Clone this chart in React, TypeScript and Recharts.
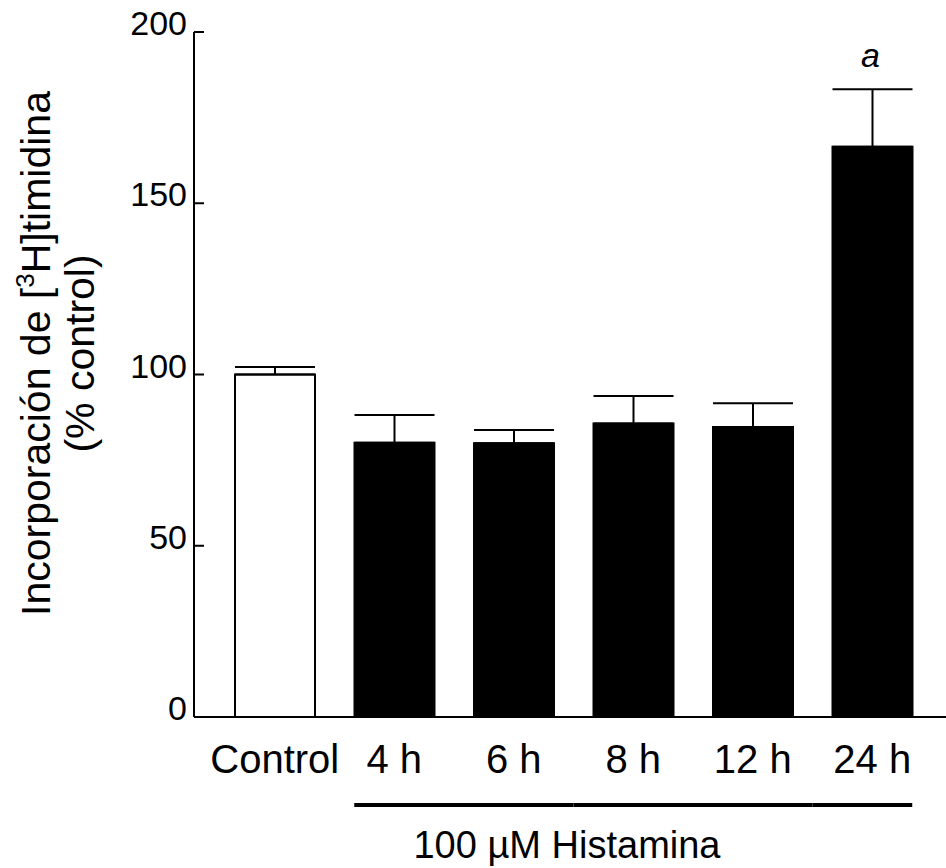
import { BarChart, Bar, XAxis, YAxis, ErrorBar, Cell, LabelList } from "recharts";

const categories = ["Control", "4 h", "6 h", "8 h", "12 h", "24 h"];
const values = [100, 80.1, 79.9, 85.7, 84.7, 166.5];
const errors = [2.2, 8.1, 3.9, 8.0, 6.9, 16.8];
const marks = ["", "", "", "", "", "a"];
const fills = ["#ffffff", "#000000", "#000000", "#000000", "#000000", "#000000"];
const yTicks = [0, 50, 100, 150, 200];

const FONT = "'Liberation Sans', Arial, Helvetica, sans-serif";
const BAR_SIZE = 80;

const data = categories.map((name, i) => ({
  name,
  value: values[i],
  err: [0, errors[i]],
  mark: marks[i],
}));

// tick marks point into the plot, labels sit just above the tick
function YTick(props: any) {
  const { x, y, payload } = props;
  return (
    <g>
      <line x1={x} x2={x + 10} y1={y} y2={y} stroke="#000" strokeWidth={2} />
      <text
        x={x - 7}
        y={y + 3}
        textAnchor="end"
        fontSize={34}
        fontFamily={FONT}
        fill="#000"
      >
        {payload.value}
      </text>
    </g>
  );
}

// category label + the bracket under the histamine groups
function XTick(props: any) {
  const { x, y, payload, index } = props;
  const half = payload.offset || 59.75;
  const last = categories.length - 1;
  let bracket = null;
  if (index >= 1) {
    const x1 = index === 1 ? x - BAR_SIZE / 2 : x - half;
    const x2 = index === last ? x + BAR_SIZE / 2 : x + half;
    bracket = (
      <line x1={x1} x2={x2} y1={y + 88} y2={y + 88} stroke="#000" strokeWidth={4} />
    );
  }
  return (
    <g>
      <text
        x={x}
        y={y + 56}
        textAnchor="middle"
        fontSize={40}
        fontFamily={FONT}
        fill="#000"
      >
        {payload.value}
      </text>
      {bracket}
    </g>
  );
}

function YLabel(props: any) {
  const { viewBox } = props;
  const cy = viewBox.y + viewBox.height / 2 - 21;
  const x1 = viewBox.x + 50;
  const x2 = viewBox.x + 94;
  return (
    <g fontFamily={FONT} fontSize={41} fill="#000">
      <text x={x1} y={cy} textAnchor="middle" transform={`rotate(-90, ${x1}, ${cy})`}>
        Incorporación de [<tspan fontSize={26} dy={-16}>3</tspan>
        <tspan dy={16}>H]timidina</tspan>
      </text>
      <text x={x2} y={cy} textAnchor="middle" transform={`rotate(-90, ${x2}, ${cy})`}>
        (% control)
      </text>
    </g>
  );
}

function XLabel(props: any) {
  const { viewBox } = props;
  return (
    <text
      x={viewBox.x + viewBox.width / 2 - 3}
      y={viewBox.y + viewBox.height - 10}
      textAnchor="middle"
      fontSize={38}
      fontFamily={FONT}
      fill="#000"
    >
      100 µM Histamina
    </text>
  );
}

function Mark(props: any) {
  const { x, y, width, value } = props;
  if (!value) return null;
  return (
    <text
      x={x + width / 2 - 2}
      y={y - 80}
      textAnchor="middle"
      fontSize={34}
      fontStyle="italic"
      fontFamily={FONT}
      fill="#000"
    >
      {value}
    </text>
  );
}

export default function App() {
  return (
    <div style={{ position: "absolute", left: 0, top: 0, background: "#fff" }}>
      <BarChart
        width={946}
        height={868}
        data={data}
        margin={{ top: 32, right: 0, bottom: 0, left: 0 }}
      >
        <XAxis
          dataKey="name"
          height={151}
          axisLine={{ stroke: "#000", strokeWidth: 2 }}
          tickLine={false}
          tickSize={0}
          tickMargin={0}
          padding={{ left: 21, right: 14 }}
          interval={0}
          tick={<XTick />}
          label={<XLabel />}
        />
        <YAxis
          width={194}
          domain={[0, 200]}
          ticks={yTicks}
          axisLine={{ stroke: "#000", strokeWidth: 2 }}
          tickLine={false}
          tickSize={0}
          tickMargin={0}
          tick={<YTick />}
          label={<YLabel />}
        />
        <Bar
          dataKey="value"
          barSize={BAR_SIZE}
          stroke="#000"
          strokeWidth={2}
          isAnimationActive={false}
        >
          {data.map((d, i) => (
            <Cell key={d.name} fill={fills[i]} />
          ))}
          <ErrorBar
            dataKey="err"
            width={40}
            stroke="#000"
            strokeWidth={2}
            direction="y"
            isAnimationActive={false}
          />
          <LabelList dataKey="mark" content={<Mark />} />
        </Bar>
      </BarChart>
    </div>
  );
}
